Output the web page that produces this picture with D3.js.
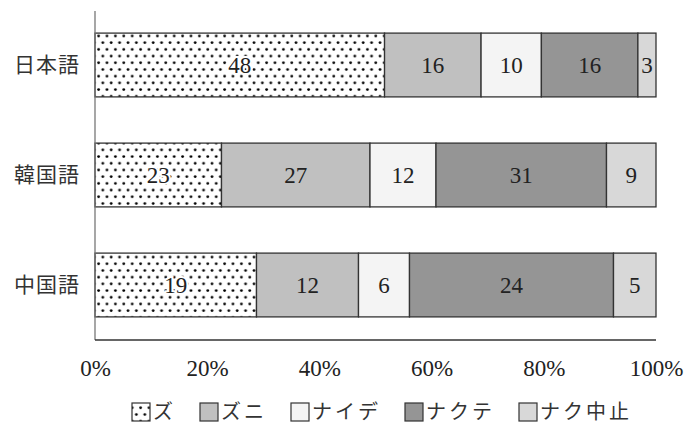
<!DOCTYPE html>
<html>
<head>
<meta charset="utf-8">
<script src="https://cdn.jsdelivr.net/npm/d3@7"></script>
<style>
  body { margin: 0; background: #fff; }
  svg { display: block; }
</style>
</head>
<body>
<script>
// data
const languages = ["日本語", "韓国語", "中国語"];
const seriesNames = ["ズ", "ズニ", "ナイデ", "ナクテ", "ナク中止"];
const zu      = [48, 23, 19];
const zuni    = [16, 27, 12];
const naide   = [10, 12, 6];
const nakute  = [16, 31, 24];
const nakuEnd = [3, 9, 5];
const tickValues = [0, 0.2, 0.4, 0.6, 0.8, 1];

const colors = ["url(#dots)", "#c0c0c0", "#f4f4f4", "#959595", "#d8d8d8"];
const numFont = "'Liberation Serif', 'DejaVu Serif', serif";
const jpFont = "'Liberation Serif', 'Noto Sans CJK JP', serif";

const rows = languages.map((lang, i) => ({
  lang: lang,
  "ズ": zu[i], "ズニ": zuni[i], "ナイデ": naide[i], "ナクテ": nakute[i], "ナク中止": nakuEnd[i]
}));

const W = 686, H = 428;
const svg = d3.select("body").append("svg").attr("width", W).attr("height", H);

// dotted pattern for first series
const pat = svg.append("defs").append("pattern")
  .attr("id", "dots").attr("patternUnits", "userSpaceOnUse")
  .attr("width", 8.4).attr("height", 13.4);
pat.append("rect").attr("width", 8.4).attr("height", 13.4).attr("fill", "#fff");
pat.append("circle").attr("cx", 2).attr("cy", 2.5).attr("r", 1.4).attr("fill", "#000");
pat.append("circle").attr("cx", 6.2).attr("cy", 9.2).attr("r", 1.4).attr("fill", "#000");

const x = d3.scaleLinear().domain([0, 1]).range([95, 656]);
const y = d3.scaleBand().domain(languages).range([10, 340])
  .paddingInner(0.42).paddingOuter(0.21);

const stacked = d3.stack().keys(seriesNames).offset(d3.stackOffsetExpand)(rows);

// bars
const groups = svg.selectAll("g.series").data(stacked).enter().append("g")
  .attr("class", "series")
  .attr("fill", (d, i) => colors[i]);

groups.selectAll("rect").data(d => d).enter().append("rect")
  .attr("x", d => x(d[0]))
  .attr("y", d => y(d.data.lang))
  .attr("width", d => x(d[1]) - x(d[0]))
  .attr("height", y.bandwidth())
  .attr("stroke", "#333")
  .attr("stroke-width", 1.3);

// value labels
stacked.forEach((s, si) => {
  svg.append("g").selectAll("text").data(s).enter().append("text")
    .attr("x", d => (x(d[0]) + x(d[1])) / 2)
    .attr("y", d => y(d.data.lang) + y.bandwidth() / 2)
    .attr("dy", "0.35em")
    .attr("text-anchor", "middle")
    .attr("font-family", numFont)
    .attr("font-size", 23)
    .attr("fill", "#222")
    .attr("stroke", si === 0 ? "#fff" : "none")
    .attr("stroke-width", si === 0 ? 4 : 0)
    .attr("paint-order", "stroke")
    .text(d => d.data[s.key]);
});

// axes
svg.append("line").attr("x1", 95).attr("x2", 95).attr("y1", 11).attr("y2", 340)
  .attr("stroke", "#777").attr("stroke-width", 1.3);
svg.append("line").attr("x1", 95).attr("x2", 656).attr("y1", 340).attr("y2", 340)
  .attr("stroke", "#333").attr("stroke-width", 1.3);

const xAxis = svg.append("g").attr("transform", "translate(0,340)")
  .call(d3.axisBottom(x).tickValues(tickValues).tickFormat(d3.format(".0%")).tickSize(0).tickPadding(20));
xAxis.select(".domain").remove();
xAxis.selectAll("text").attr("font-family", numFont).attr("font-size", 23).attr("fill", "#222");

const yAxis = svg.append("g").attr("transform", "translate(95,0)")
  .call(d3.axisLeft(y).tickSize(0).tickPadding(15));
yAxis.select(".domain").remove();
yAxis.selectAll("text").attr("font-family", jpFont).attr("font-size", 21)
  .attr("letter-spacing", 1).attr("fill", "#333");

// legend
const legend = svg.append("g").attr("transform", "translate(0,412)");
let lx = 132;
seriesNames.forEach((name, i) => {
  legend.append("rect").attr("x", lx).attr("y", -9).attr("width", 18).attr("height", 18)
    .attr("fill", colors[i]).attr("stroke", "#333").attr("stroke-width", 1.2);
  const t = legend.append("text").attr("x", lx + 21).attr("y", 0).attr("dy", "0.35em")
    .attr("font-family", jpFont).attr("font-size", 20).attr("letter-spacing", 3)
    .attr("fill", "#333").text(name);
  lx += 21 + t.node().getComputedTextLength() + 24;
});
</script>
</body>
</html>
